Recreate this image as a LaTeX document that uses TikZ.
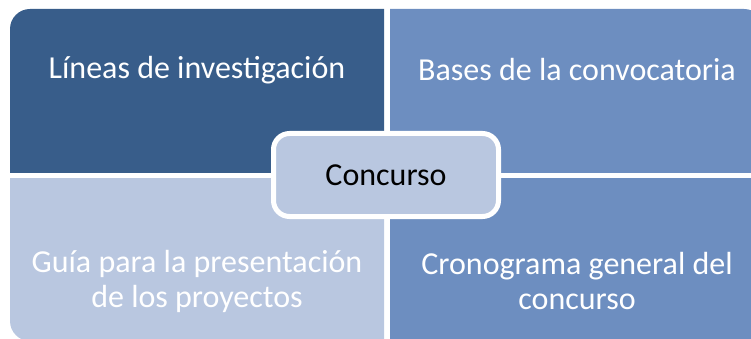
\documentclass[tikz,border=0pt]{standalone}
\usepackage{fontspec}
\setmainfont{Carlito}
\definecolor{qdark}{HTML}{385D8A}
\definecolor{qmid}{HTML}{6D8EC0}
\definecolor{qlight}{HTML}{B9C7E0}
\begin{document}
\begin{tikzpicture}[x=1pt,y=-1pt,
  qtext/.style={text=white,font=\fontsize{32}{35}\selectfont,align=center,inner sep=0pt},
  centerbox/.style={rounded corners=16pt,fill=qlight,draw=white,line width=5pt,
    minimum width=225pt,minimum height=83pt,font=\fontsize{32}{35}\selectfont,text=black}]
\useasboundingbox (0,0) rectangle (751,339);
\clip (0,0) rectangle (751,339);
% quadrants
\begin{scope}
  \clip (10,9) rectangle (384,172);
  \fill[qdark,rounded corners=20pt] (10,9) rectangle (430,220);
\end{scope}
\begin{scope}
  \clip (390,9) rectangle (764,172);
  \fill[qmid,rounded corners=20pt] (340,9) rectangle (764,220);
\end{scope}
\begin{scope}
  \clip (10,178) rectangle (384,341);
  \fill[qlight,rounded corners=20pt] (10,130) rectangle (430,341);
\end{scope}
\begin{scope}
  \clip (390,178) rectangle (764,341);
  \fill[qmid,rounded corners=20pt] (340,130) rectangle (764,341);
\end{scope}
\node[qtext] (tl) at (197,70) {Líneas de investigación};
\node[qtext] (tr) at (577,70) {Bases de la convocatoria};
\node[qtext] (bl) at (197,281) {Guía para la presentación\\de los proyectos};
\node[qtext] (br) at (577,281) {Cronograma general del\\concurso};
\node[centerbox] (c) at (386,175) {Concurso};
\end{tikzpicture}
\end{document}
